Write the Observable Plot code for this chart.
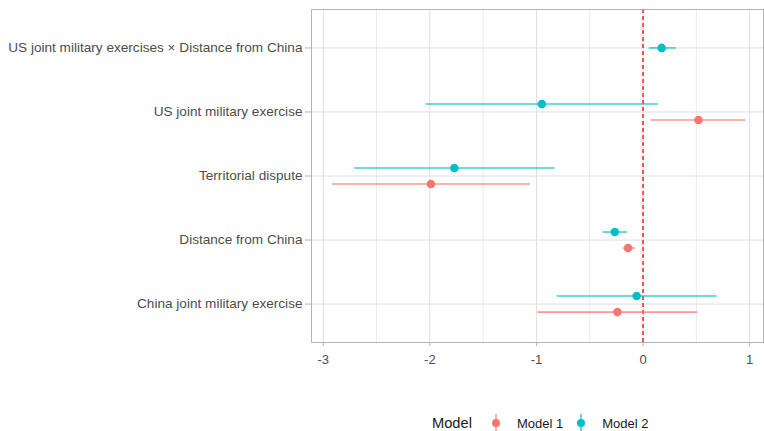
<!DOCTYPE html>
<html><head><meta charset="utf-8">
<script src="https://cdn.jsdelivr.net/npm/d3@7"></script>
<script src="https://cdn.jsdelivr.net/npm/@observablehq/plot@0.6"></script>
<style>
body{margin:0;background:#fff;font-family:"Liberation Sans",Arial,sans-serif}
#wrap{position:relative;width:764px;height:431px;overflow:hidden}
#legend{position:absolute;left:432px;top:412px;height:22px;display:flex;align-items:center;color:#1a1a1a}
#legend .title{font-size:14.67px;margin-right:15px}
#legend .lab{font-size:13px}
#legend svg{display:block}
</style>
</head><body><div id="wrap"></div>
<script>
const terms = ["US joint military exercises × Distance from China","US joint military exercise","Territorial dispute","Distance from China","China joint military exercise"];
const models = ["Model 1","Model 2"];
const colors = ["#F8766D","#00BFC4"];
const m1Terms = ["US joint military exercise","Territorial dispute","Distance from China","China joint military exercise"];
const m1Est = [0.52,-1.99,-0.14,-0.24];
const m1Lo = [0.07,-2.92,-0.19,-0.99];
const m1Hi = [0.96,-1.06,-0.075,0.51];
const m2Terms = ["US joint military exercises × Distance from China","US joint military exercise","Territorial dispute","Distance from China","China joint military exercise"];
const m2Est = [0.175,-0.95,-1.77,-0.265,-0.06];
const m2Lo = [0.056,-2.04,-2.71,-0.38,-0.81];
const m2Hi = [0.306,0.14,-0.83,-0.15,0.69];
const xMajor = [-3,-2,-1,0,1];
const xMinor = [-2.5,-1.5,-0.5,0.5];

const rows = [];
m1Terms.forEach((t,i)=>rows.push({term:t,model:models[0],est:m1Est[i],lo:m1Lo[i],hi:m1Hi[i]}));
m2Terms.forEach((t,i)=>rows.push({term:t,model:models[1],est:m2Est[i],lo:m2Lo[i],hi:m2Hi[i]}));
const counts = d3.rollup(rows, v=>v.length, d=>d.term);
const dodge = 0.25;
rows.forEach(d=>{
  const base = terms.length - terms.indexOf(d.term);
  const n = counts.get(d.term);
  const k = models.indexOf(d.model);
  d.y = n > 1 ? base + (k === 0 ? -dodge/2 : dodge/2) : base;
});
const yTicks = terms.map((t,i)=>terms.length - i);

const chart = Plot.plot({
  width:764, height:400,
  marginLeft:311, marginRight:1, marginTop:9, marginBottom:58,
  style:{fontFamily:"Liberation Sans, Arial, sans-serif", fontSize:"13.3px", color:"#4d4d4d", background:"#fff", overflow:"visible"},
  x:{domain:[-3.11,1.13], label:null},
  y:{domain:[0.4,5.6], label:null},
  color:{domain:models, range:colors},
  marks:[
    Plot.ruleX(xMinor,{stroke:"#ebebeb", strokeWidth:1}),
    Plot.ruleX(xMajor,{stroke:"#dedede", strokeWidth:1}),
    Plot.ruleY(yTicks,{stroke:"#dedede", strokeWidth:1}),
    Plot.ruleX([0],{stroke:"#ff0000", strokeDasharray:"4,3", strokeWidth:1.3}),
    Plot.link(rows,{x1:"lo",x2:"hi",y1:"y",y2:"y",stroke:"model",strokeOpacity:0.75,strokeWidth:1.6}),
    Plot.dot(rows,{x:"est",y:"y",fill:"model",r:4.3}),
    Plot.frame({stroke:"#b3b3b3"}),
    Plot.axisX({ticks:xMajor, tickFormat:d=>String(d), tickSize:4, tickPadding:8, stroke:"#b3b3b3", fill:"#4d4d4d", fontSize:13, label:null}),
    Plot.axisY({ticks:yTicks, tickFormat:v=>terms[terms.length - v], tickSize:6, tickPadding:3, stroke:"#b3b3b3", fill:"#4d4d4d", fontSize:13.6, label:null})
  ]
});
const wrap = document.getElementById("wrap");
wrap.appendChild(chart);

const legend = document.createElement("div");
legend.id = "legend";
let html = `<span class="title">Model</span>`;
models.forEach((m,i)=>{
  html += `<svg width="18" height="20" style="margin-left:${i===0?0:9}px;margin-right:12px"><line x1="9" x2="9" y1="1" y2="19" stroke="${colors[i]}" stroke-opacity="0.75" stroke-width="1.6"/><circle cx="9" cy="10" r="4" fill="${colors[i]}"/></svg><span class="lab">${m}</span>`;
});
legend.innerHTML = html;
wrap.appendChild(legend);
</script>
</body></html>
